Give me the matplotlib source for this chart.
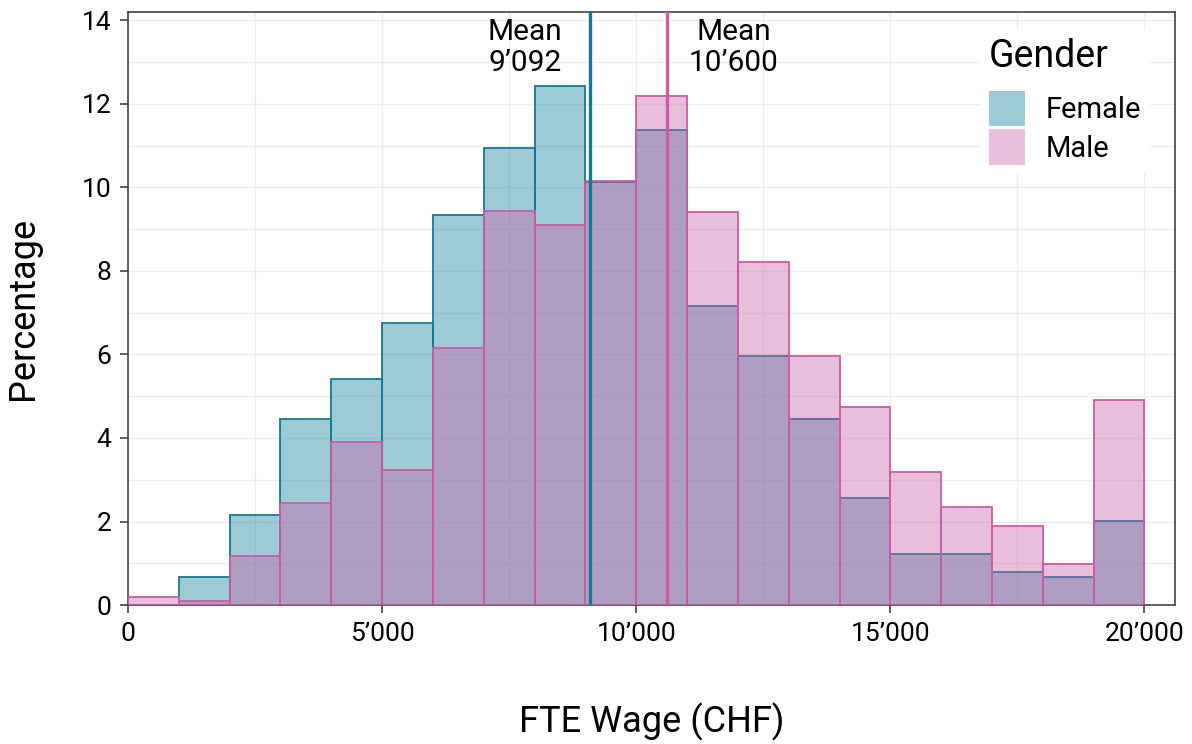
import numpy as np
import matplotlib
matplotlib.use("Agg")
import matplotlib.pyplot as plt
from matplotlib.ticker import FuncFormatter, MultipleLocator

plt.rcParams['font.family'] = ['Roboto', 'DejaVu Sans']

# histogram data (percentage per 1'000 CHF bin)
bin_edges = list(range(0, 21000, 1000))
female_pct = [0.0, 0.67, 2.15, 4.45, 5.41, 6.75, 9.33, 10.95, 12.42, 10.14,
              11.38, 7.17, 5.96, 4.46, 2.56, 1.21, 1.21, 0.79, 0.67, 2.02]
male_pct = [0.2, 0.1, 1.17, 2.45, 3.91, 3.23, 6.15, 9.44, 9.1, 10.16,
            12.2, 9.4, 8.22, 5.97, 4.75, 3.19, 2.34, 1.89, 0.99, 4.92]
female_mean = 9092
male_mean = 10600

female_col = "#0E7C98"
male_col = "#C95EA6"


def chf(v, pos=None):
    return f"{int(v):,}".replace(",", "\u2019")


fig = plt.figure(figsize=(11.92, 7.44), dpi=100)
ax = fig.add_axes([0.1074, 0.1868, 0.8783, 0.797])

centers = np.array(bin_edges[:-1])
ax.bar(centers, female_pct, width=1000, align="edge", color=female_col, alpha=0.4,
       edgecolor="none", zorder=2, label="Female")
ax.bar(centers, female_pct, width=1000, align="edge", fill=False,
       edgecolor=female_col, linewidth=1.3, zorder=2.1)
ax.bar(centers, male_pct, width=1000, align="edge", color=male_col, alpha=0.4,
       edgecolor="none", zorder=3, label="Male")
ax.bar(centers, male_pct, width=1000, align="edge", fill=False,
       edgecolor=male_col, linewidth=1.3, zorder=3.1)

ax.axvline(female_mean, color=female_col, linewidth=2.4, zorder=4)
ax.axvline(male_mean, color=male_col, linewidth=2.4, zorder=4)

ax.text(female_mean - 550, 14.05, "Mean\n" + chf(female_mean), ha="right", va="top",
        fontsize=21.5, linespacing=1.1, multialignment="center", zorder=5)
ax.text(male_mean + 430, 14.05, "Mean\n" + chf(male_mean), ha="left", va="top",
        fontsize=21.5, linespacing=1.1, multialignment="center", zorder=5)

ax.set_xlim(0, 20600)
ax.set_ylim(0, 14.2)
ax.xaxis.set_major_locator(MultipleLocator(5000))
ax.xaxis.set_minor_locator(MultipleLocator(2500))
ax.yaxis.set_major_locator(MultipleLocator(2))
ax.yaxis.set_minor_locator(MultipleLocator(1))
ax.xaxis.set_major_formatter(FuncFormatter(chf))
ax.grid(which="both", color="#EDEDED", linewidth=0.9, zorder=0)
ax.set_axisbelow(True)
ax.tick_params(axis="both", which="major", labelsize=19, length=6, width=1.2,
               color="#444444", pad=6)
ax.tick_params(axis="both", which="minor", length=0)
for s in ax.spines.values():
    s.set_color("#444444")
    s.set_linewidth(1.2)

ax.set_xlabel("FTE Wage (CHF)", fontsize=26)
ax.set_ylabel("Percentage", fontsize=26)
ax.xaxis.set_label_coords(0.5, -0.165)
ax.yaxis.set_label_coords(-0.083, 0.5)

leg = ax.legend(title="Gender", loc="upper right", bbox_to_anchor=(0.99, 0.995),
                fontsize=21, title_fontsize=27, frameon=True, framealpha=1,
                edgecolor="none", handlelength=1.25, handleheight=1.5,
                handletextpad=0.7, labelspacing=0.1, borderpad=0.3)
leg._legend_box.align = "left"
leg._legend_box.sep = 11
leg.get_frame().set_facecolor("white")
leg.set_zorder(6)

fig.savefig("out.png", dpi=100)
